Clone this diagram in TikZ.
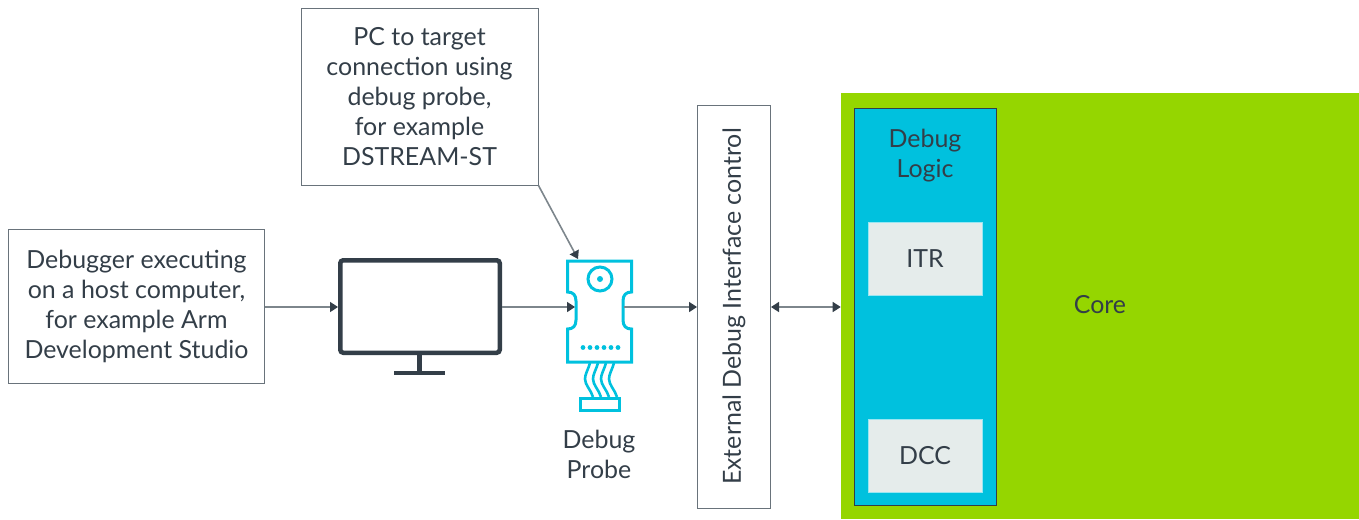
\documentclass[tikz,border=0pt]{standalone}
\usepackage{fontspec}
\setmainfont{Lato}
\usetikzlibrary{arrows.meta,positioning,calc}
\definecolor{armdark}{HTML}{333E48}
\definecolor{armgrey}{HTML}{69737B}
\definecolor{armline}{HTML}{7D868C}
\definecolor{armblue}{HTML}{00C1DE}
\definecolor{armgreen}{HTML}{95D600}
\definecolor{armlight}{HTML}{E5ECEB}
\def\px{0.75pt}
\newcommand\probewire[1]{%
\draw[armblue,line width=2.6*\px] (#1,363) .. controls (#1-2,370) and (#1-5,374) .. (#1-5,379) .. controls (#1-5,385) and (#1+1,390) .. (#1+3,397);
}
\tikzset{
  every node/.style={text=armdark,font=\fontsize{18.7}{22.4}\selectfont,align=center,inner sep=0pt},
  textbox/.style={draw=armgrey,line width=1*\px,fill=white},
  regbox/.style={fill=armlight,draw=armblue!40,line width=0.5*\px,minimum width=114*\px,minimum height=73*\px},
  conn/.style={draw=armline,line width=1.6*\px,-{Triangle[length=8*\px,width=10*\px,color=armdark]}},
  connboth/.style={draw=armline,line width=1.6*\px,{Triangle[length=8*\px,width=10*\px,color=armdark]}-{Triangle[length=8*\px,width=10*\px,color=armdark]}}
}
\begin{document}
\begin{tikzpicture}[x=\px,y=-\px]
	\useasboundingbox (0,0) rectangle (1359,519);

	% core and debug logic
	\node[fill=armgreen,minimum width=518*\px,minimum height=426*\px] (core) at (1100,306) {};
	\node at (1100,305) (corelabel) {Core};
	\node[fill=armblue,draw=armdark,line width=1*\px,minimum width=142*\px,minimum height=397*\px] (logic) at (925,306.5) {};
	\node (logiclabel) at (925,155.5) {Debug\\Logic};
	\node[regbox] (itr) at (925,259) {ITR};
	\node[regbox] (dcc) at (925,456) {DCC};

	% text boxes
	\node[textbox,minimum width=256*\px,minimum height=154*\px] (debugger) at (136.5,306.5) {Debugger executing\\on a host computer,\\for example Arm\\Development Studio};
	\node[textbox,minimum width=237*\px,minimum height=177*\px] (pctarget) at (419.5,96.5) {PC to target\\connection using\\debug probe,\\for example\\DSTREAM-ST};
	\node[textbox,rotate=90,minimum width=403*\px,minimum height=73*\px] (external) at (734,306.5) {External Debug Interface control};

	% monitor
	\node[draw=armdark,line width=4.5*\px,rounded corners=3*\px,minimum width=159.5*\px,minimum height=92.5*\px] (monitor) at (420,306.5) {};
	\coordinate (standbase) at (419.5,373);
	\draw[armdark,line width=4.5*\px] (monitor.south -| standbase) -- (standbase);
	\draw[armdark,line width=4.5*\px] (394,373) -- (445,373);

	% debug probe
	\draw[armblue,line width=3*\px,fill=white] (567.5,261) -- (631.5,261) -- (631.5,292)
		.. controls (626,292) and (623,295) .. (623,301) -- (623,320)
		.. controls (623,326) and (626,329) .. (631.5,329) -- (631.5,362) -- (567.5,362) -- (567.5,329)
		.. controls (573,329) and (576,326) .. (576,320) -- (576,301)
		.. controls (576,295) and (573,292) .. (567.5,292) -- cycle;
	\draw[armblue,line width=3*\px] (600,279) circle (12);
	\fill[armblue] (600,279) circle (3);
	\foreach \x in {583,590,597,604,611,618}
		\fill[armblue] (\x,347.5) circle (2.4);
	\foreach \x in {590,598,606,614}
		\probewire{\x}
	\draw[armblue,line width=3*\px,fill=white] (580.5,398.5) rectangle (619,410);
	\node (probelabel) at (599,454) {Debug\\Probe};
	\coordinate (probetop) at (578,259);
	\coordinate (probeleft) at (575,307);
	\coordinate (proberight) at (624,307);

	% connectors
	\draw[conn] (pctarget.south east) -- (probetop);
	\draw[conn] (debugger.east |- probeleft) -- (monitor.west |- probeleft);
	\draw[conn] (monitor.east |- probeleft) -- (probeleft);
	\draw[conn] (proberight) -- (external.north |- proberight);
	\draw[connboth] (external.south |- proberight) -- (core.west |- proberight);
\end{tikzpicture}
\end{document}
